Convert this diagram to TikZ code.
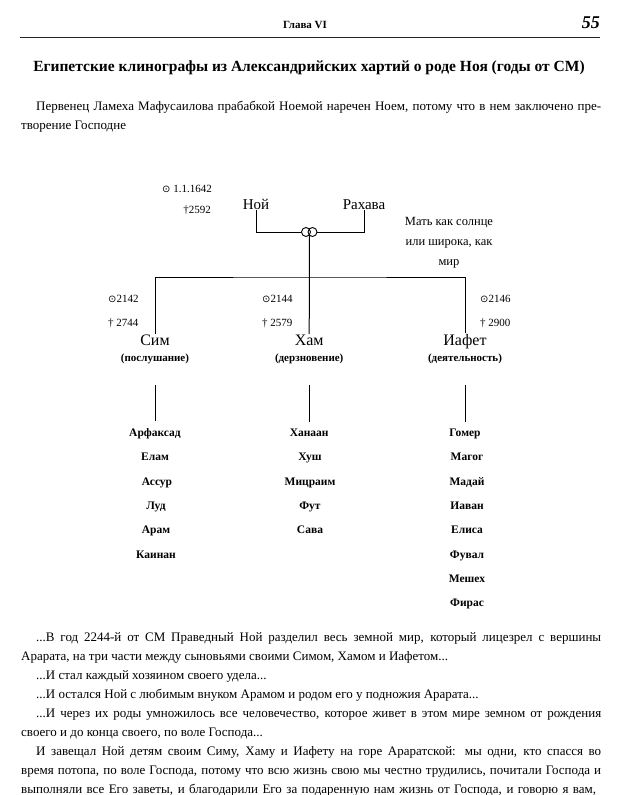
\documentclass[tikz,border=0pt]{standalone}
\usepackage{fontspec}
\setmainfont{Liberation Serif}
\newfontfamily\symfont{DejaVu Sans}
\usetikzlibrary{positioning}

\begin{document}
\begin{tikzpicture}[x=1pt, y=-1pt,
    every node/.style={inner sep=1pt},
    body/.style={anchor=base west, font=\fontsize{13}{15}\selectfont},
    parent/.style={anchor=base, font=\fontsize{15}{17}\selectfont},
    son/.style={anchor=base, font=\fontsize{16}{18}\selectfont},
    role/.style={anchor=base, font=\bfseries\fontsize{11}{13}\selectfont},
    kid/.style={anchor=base, font=\bfseries\fontsize{11.5}{13}\selectfont},
    date/.style={anchor=base west, font=\fontsize{11}{13}\selectfont},
    note/.style={align=center, font=\fontsize{12.5}{20}\selectfont},
    ring/.style={circle, draw, minimum size=9pt, inner sep=0pt, line width=0.9pt},
    tree/.style={line width=1pt}
]
    \fill[white] (0,0) rectangle (621,795);
    \useasboundingbox (0,0) rectangle (621,795);

    % Page head
    \node[font=\bfseries\fontsize{11}{13}\selectfont] (head) at (305,25) {Глава VI};
    \node[anchor=east, font=\bfseries\itshape\fontsize{18}{20}\selectfont] (page) at (601,23) {55};
    \draw[line width=1pt, black!85] (20,37) -- (600,37);

    % Title and opening lines
    \node[font=\bfseries\fontsize{15.5}{18}\selectfont] (title) at (309,68)
        {Египетские клинографы из Александрийских хартий о роде Ноя (годы от СМ)};
    \node[body] (p1) at (35,110) {\makebox[565pt][s]{Первенец Ламеха Мафусаилова прабабкой Ноемой наречен Ноем, потому что в нем заключено пре-}};
    \node[body] (p2) at (20,129) {творение Господне};

    % Noah and Rahava
    \node[date, anchor=base east] (nojborn) at (213,192) {{\symfont\fontsize{10}{12}\selectfont ⊙} 1.1.1642};
    \node[date, anchor=base east] (nojdied) at (212,213) {†2592};
    \node[parent] (noj) at (256,209) {Ной};
    \node[parent] (rahava) at (364,209) {Рахава};
    \node[ring] (ringl) at (306,232) {};
    \node[ring] (ringr) at (312.5,232) {};
    \node[note] (mother) at (449,243) {Мать как солнце\\или широка, как\\мир};

    % Sons
    \node[son] (sim) at (155,345.5) {Сим};
    \node[role] (simrole) at (155,361) {(послушание)};
    \node[son] (ham) at (309.2,345.5) {Хам};
    \node[role] (hamrole) at (309.2,361) {(дерзновение)};
    \node[son] (iafet) at (465,345.5) {Иафет};
    \node[role] (iafetrole) at (465,361) {(деятельность)};

    \node[date] (simborn) at (107,302) {{\symfont\fontsize{10}{12}\selectfont ⊙}2142};
    \node[date] (simdied) at (107,326) {† 2744};
    \node[date] (hamborn) at (261,302) {{\symfont\fontsize{10}{12}\selectfont ⊙}2144};
    \node[date] (hamdied) at (261,326) {† 2579};
    \node[date] (iafetborn) at (479,302) {{\symfont\fontsize{10}{12}\selectfont ⊙}2146};
    \node[date] (iafetdied) at (479,326) {† 2900};

    % Sons of Sim
    \node[kid] (arfaksad) at (155,436.5) {Арфаксад};
    \node[kid] (elam) at (155,460.8) {Елам};
    \node[kid] (assur) at (157,485.1) {Ассур};
    \node[kid] (lud) at (156,509.4) {Луд};
    \node[kid] (aram) at (156,533.7) {Арам};
    \node[kid] (kainan) at (156,558) {Каинан};

    % Sons of Ham
    \node[kid] (hanaan) at (309.2,436.5) {Ханаан};
    \node[kid] (hush) at (310,460.8) {Хуш};
    \node[kid] (micraim) at (310,485.1) {Мицраим};
    \node[kid] (fut) at (310,509.4) {Фут};
    \node[kid] (sava) at (310,533.7) {Сава};

    % Sons of Iafet
    \node[kid] (gomer) at (465,436.5) {Гомер};
    \node[kid] (magog) at (467,460.8) {Магог};
    \node[kid] (madaj) at (467,485.1) {Мадай};
    \node[kid] (iavan) at (467,509.4) {Иаван};
    \node[kid] (elisa) at (467,533.7) {Елиса};
    \node[kid] (fuval) at (467,558) {Фувал};
    \node[kid] (meshekh) at (467,582.3) {Мешех};
    \node[kid] (firas) at (467,606.6) {Фирас};

    % Lines
    \coordinate (bar) at (309.2,277);
    \draw[tree] (noj.south) |- (ringl.west);
    \draw[tree] (rahava.south) |- (ringr.east);
    \draw[tree] (ringl.south east) -- (ham.north);
    \draw[tree] (sim.north) |- (bar) -| (iafet.north);
    \coordinate (simdrop) at (155,385);
    \coordinate (hamdrop) at (309.2,385);
    \coordinate (iafetdrop) at (465,385);
    \draw[tree, shorten >=6pt] (simdrop) -- (arfaksad.north);
    \draw[tree, shorten >=6pt] (hamdrop) -- (hanaan.north);
    \draw[tree, shorten >=6pt] (iafetdrop) -- (gomer.north);

    % Closing lines
    \node[body] (q1) at (35,641) {\makebox[565pt][s]{...В год 2244-й от СМ Праведный Ной разделил весь земной мир, который лицезрел с вершины}};
    \node[body] (q2) at (20,660.1) {Арарата, на три части между сыновьями своими Симом, Хамом и Иафетом...};
    \node[body] (q3) at (35,679.2) {...И стал каждый хозяином своего удела...};
    \node[body] (q4) at (35,698.3) {...И остался Ной с любимым внуком Арамом и родом его у подножия Арарата...};
    \node[body] (q5) at (35,717.4) {\makebox[565pt][s]{...И через их роды умножилось все человечество, которое живет в этом мире земном от рождения}};
    \node[body] (q6) at (20,736.5) {своего и до конца своего, по воле Господа...};
    \node[body] (q7) at (35,755.6) {\makebox[565pt][s]{И завещал Ной детям своим Симу, Хаму и Иафету на горе Араратской: мы одни, кто спасся во}};
    \node[body] (q8) at (20,774.7) {\makebox[580pt][s]{время потопа, по воле Господа, потому что всю жизнь свою мы честно трудились, почитали Господа и}};
    \node[body] (q9) at (20,793.8) {\makebox[575pt][s]{выполняли все Его заветы, и благодарили Его за подаренную нам жизнь от Господа, и говорю я вам,}};
\end{tikzpicture}
\end{document}
